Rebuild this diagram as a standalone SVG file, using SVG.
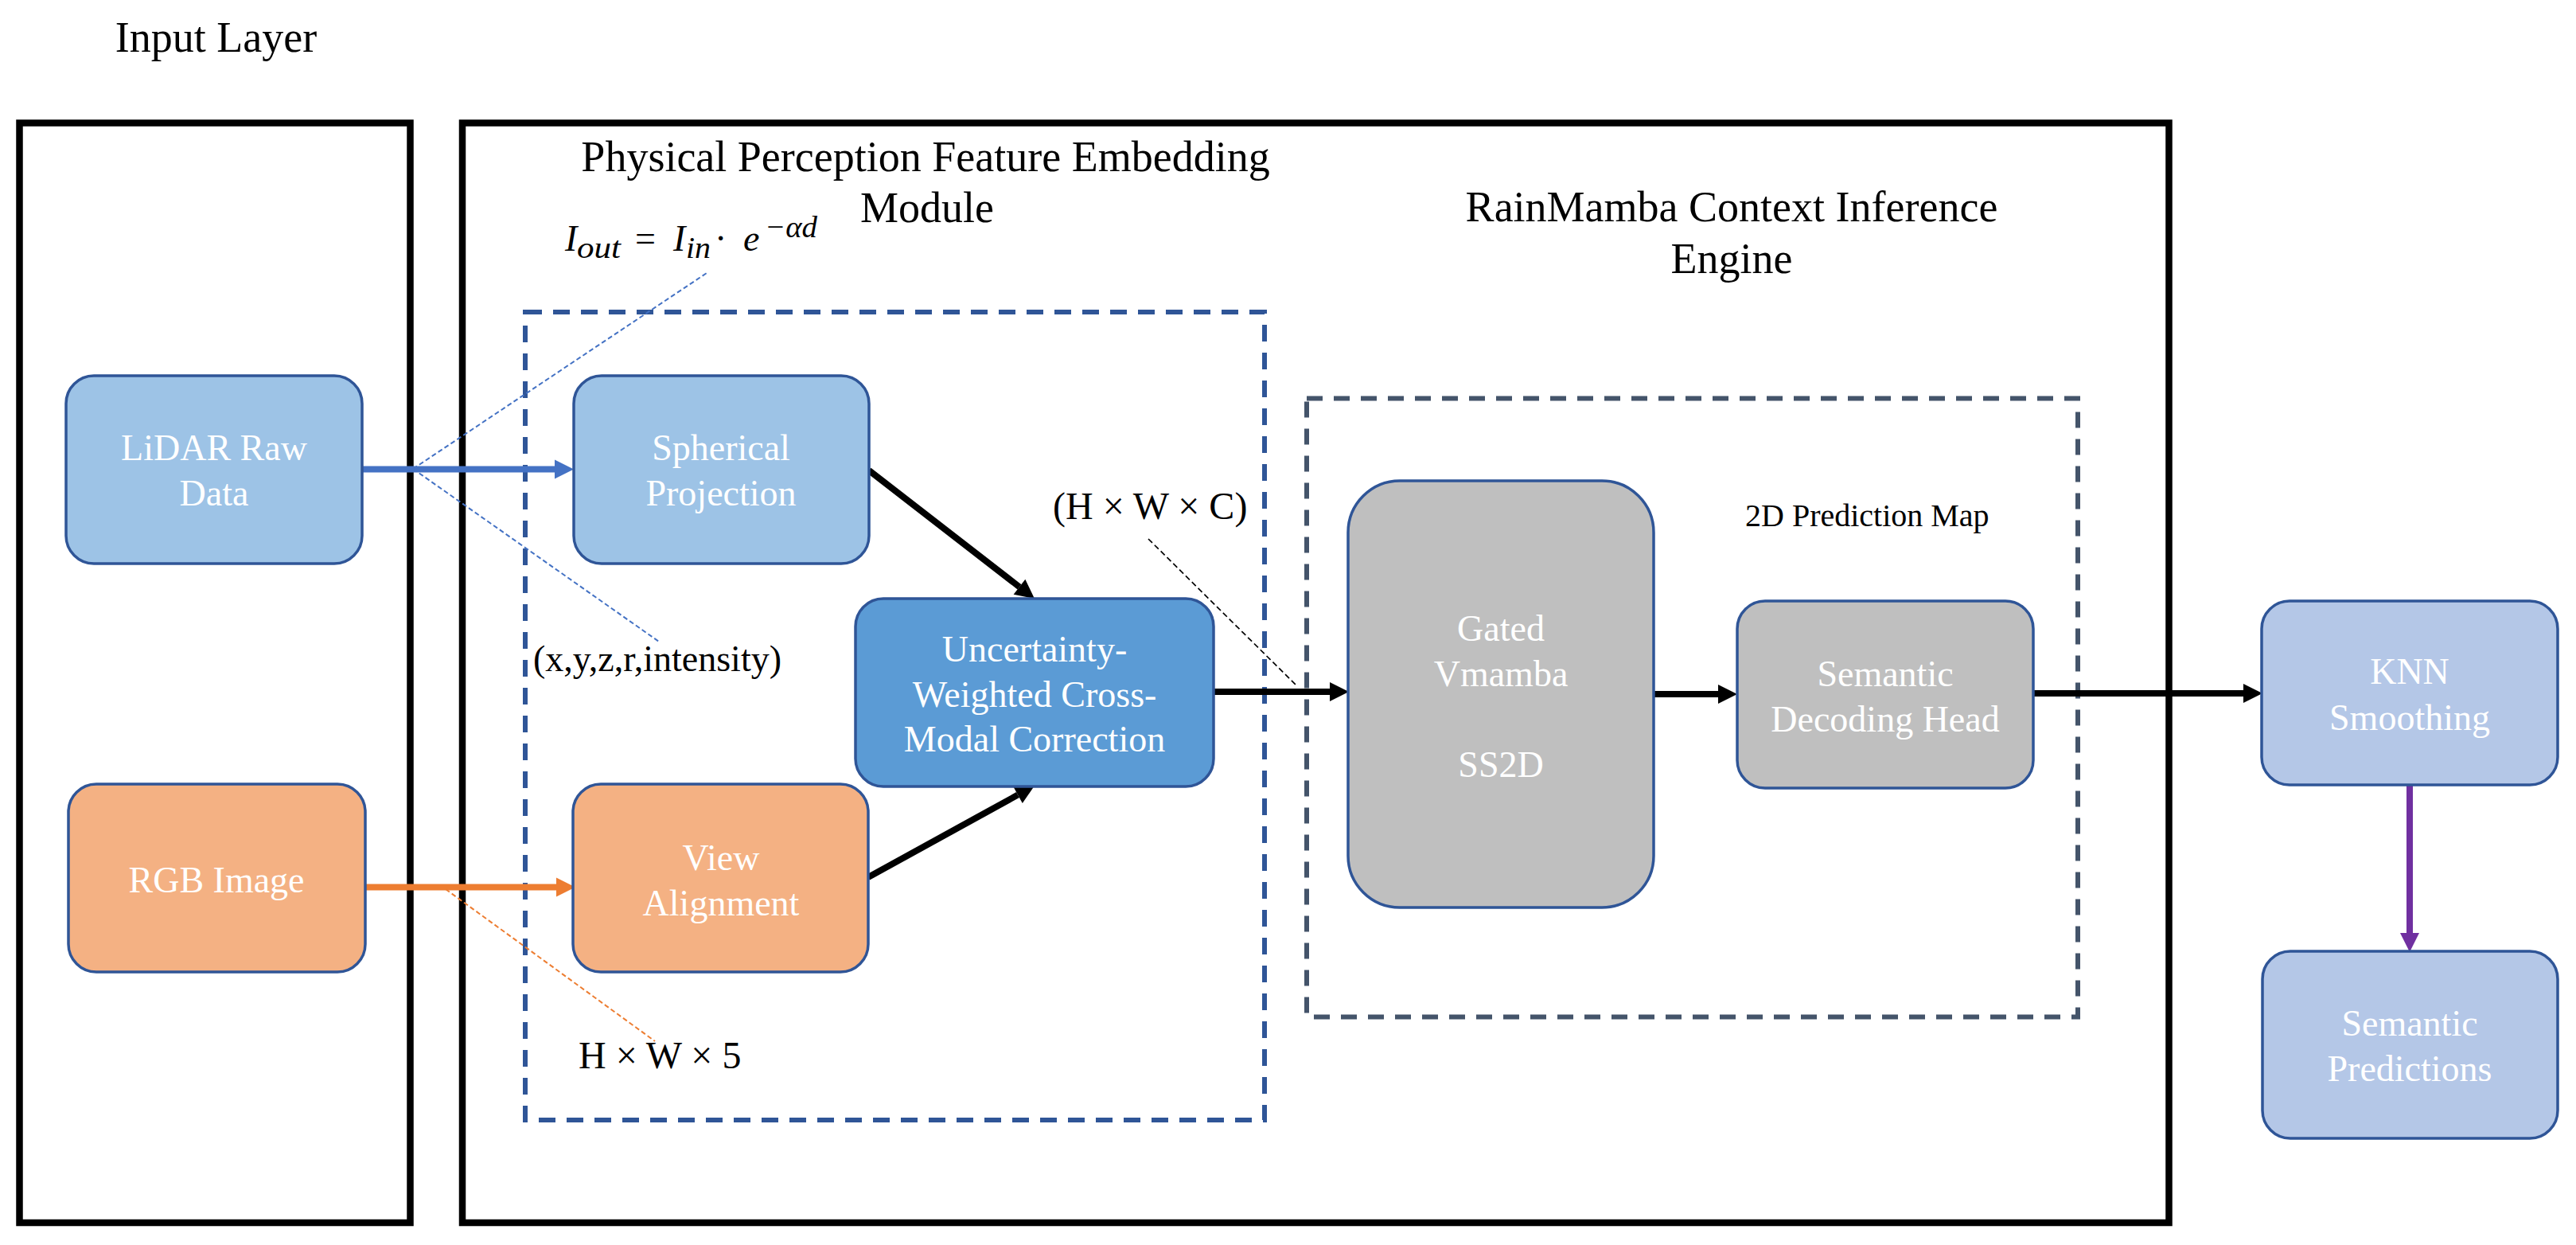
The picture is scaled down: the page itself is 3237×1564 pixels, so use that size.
<svg xmlns="http://www.w3.org/2000/svg" width="3237" height="1564" viewBox="0 0 3237 1564">
<style>
.frame{fill:none;stroke:#000;stroke-width:8.5}
.db1{fill:none;stroke:#2F5597;stroke-width:6;stroke-dasharray:21 14}
.db2{fill:none;stroke:#44546A;stroke-width:6;stroke-dasharray:20 14}
.box{stroke:#2F5597;stroke-width:3.5}
.lbl{font-family:"Liberation Serif","Times New Roman",serif;font-size:46px;fill:#fff;text-anchor:middle}
.t{font-family:"Liberation Serif","Times New Roman",serif;fill:#000}
.title{font-size:54px;text-anchor:middle}
.ar{fill:none;stroke-width:8}
.thin{fill:none;stroke-width:2;stroke-dasharray:6 3.5}
</style>
<defs>
<marker id="hk" markerUnits="userSpaceOnUse" markerWidth="24" markerHeight="24" refX="0" refY="12" orient="auto" overflow="visible"><path d="M0,0 L24,12 L0,24 z" fill="#000"/></marker>
<marker id="hb" markerUnits="userSpaceOnUse" markerWidth="24" markerHeight="24" refX="0" refY="12" orient="auto" overflow="visible"><path d="M0,0 L24,12 L0,24 z" fill="#4472C4"/></marker>
<marker id="ho" markerUnits="userSpaceOnUse" markerWidth="24" markerHeight="24" refX="0" refY="12" orient="auto" overflow="visible"><path d="M0,0 L24,12 L0,24 z" fill="#ED7D31"/></marker>
<marker id="hp" markerUnits="userSpaceOnUse" markerWidth="24" markerHeight="24" refX="0" refY="12" orient="auto" overflow="visible"><path d="M0,0 L24,12 L0,24 z" fill="#7030A0"/></marker>
</defs>
<rect width="3237" height="1564" fill="#fff"/>

<g id="frames">
<rect class="frame" x="24.5" y="154.5" width="491" height="1381.5"/>
<rect class="frame" x="581" y="154.5" width="2144.5" height="1381.5"/>
<rect class="db1" x="660" y="392" width="929" height="1015"/>
<rect class="db2" x="1642" y="500.5" width="969" height="777"/>
</g>

<g id="titles">
<text class="t title" x="271.5" y="65">Input Layer</text>
<text class="t title" x="1163" y="215">Physical Perception Feature Embedding</text>
<text class="t title" x="1165" y="279">Module</text>
<text class="t title" x="2176" y="278">RainMamba Context Inference</text>
<text class="t title" x="2176" y="343">Engine</text>
</g>

<g id="annotations">
<text class="t" font-size="46" font-style="italic"><tspan x="710" y="315">I</tspan><tspan x="725" y="324" font-size="38" textLength="55" lengthAdjust="spacingAndGlyphs">out</tspan><tspan x="798" y="315" font-style="normal">=</tspan><tspan x="846" y="315">I</tspan><tspan x="862" y="324" font-size="38" textLength="31" lengthAdjust="spacingAndGlyphs">in</tspan><tspan x="898" y="315" font-style="normal">·</tspan><tspan x="934" y="315">e</tspan><tspan x="961" y="298" font-size="38" textLength="66" lengthAdjust="spacingAndGlyphs">−αd</tspan></text>
<text class="t" x="670" y="843" font-size="46">(x,y,z,r,intensity)</text>
<text class="t" x="727" y="1342" font-size="48">H × W × 5</text>
<text class="t" x="1323" y="652" font-size="48">(H × W × C)</text>
<text class="t" x="2193" y="661" font-size="40">2D Prediction Map</text>
</g>

<g id="connectors">
<line class="ar" stroke="#4472C4" x1="455" y1="589.5" x2="697" y2="589.5" marker-end="url(#hb)"/>
<line class="ar" stroke="#ED7D31" x1="459" y1="1114.5" x2="699" y2="1114.5" marker-end="url(#ho)"/>
<line class="thin" stroke="#4472C4" x1="519" y1="589" x2="888" y2="343"/>
<line class="thin" stroke="#4472C4" x1="519" y1="589" x2="828" y2="806"/>
<line class="thin" stroke="#ED7D31" x1="560" y1="1117" x2="823" y2="1308"/>
<line class="ar" stroke="#000" x1="1092" y1="591" x2="1281" y2="737.3" marker-end="url(#hk)"/>
<line class="ar" stroke="#000" x1="1091" y1="1102" x2="1279" y2="998.6" marker-end="url(#hk)"/>
<line class="ar" stroke="#000" x1="1525" y1="869" x2="1671" y2="869" marker-end="url(#hk)"/>
<line class="ar" stroke="#000" x1="2078" y1="872" x2="2159" y2="872" marker-end="url(#hk)"/>
<line class="ar" stroke="#000" x1="2555" y1="871" x2="2819" y2="871" marker-end="url(#hk)"/>
<line class="ar" stroke="#7030A0" x1="3028" y1="986" x2="3028" y2="1172" marker-end="url(#hp)"/>
<line fill="none" stroke="#000" stroke-width="1.7" stroke-dasharray="7 4" x1="1443" y1="677" x2="1628" y2="860"/>
</g>

<g id="lidar">
<rect class="box" x="83" y="472" width="372" height="236" rx="35" fill="#9DC3E6"/>
<text class="lbl" x="269" y="578">LiDAR Raw</text>
<text class="lbl" x="269" y="635">Data</text>
</g>
<g id="rgb">
<rect class="box" x="86" y="985" width="373" height="236" rx="35" fill="#F4B183"/>
<text class="lbl" x="272" y="1121">RGB Image</text>
</g>
<g id="spherical">
<rect class="box" x="721" y="472" width="371" height="236" rx="35" fill="#9DC3E6"/>
<text class="lbl" x="906" y="578">Spherical</text>
<text class="lbl" x="906" y="635">Projection</text>
</g>
<g id="view">
<rect class="box" x="720" y="985" width="371" height="236" rx="35" fill="#F4B183"/>
<text class="lbl" x="906" y="1093">View</text>
<text class="lbl" x="906" y="1150">Alignment</text>
</g>
<g id="uncertainty">
<rect class="box" x="1075" y="752" width="450" height="236" rx="35" fill="#5B9BD5"/>
<text class="lbl" x="1300" y="831">Uncertainty-</text>
<text class="lbl" x="1300" y="888">Weighted Cross-</text>
<text class="lbl" x="1300" y="944">Modal Correction</text>
</g>
<g id="gated">
<rect class="box" x="1694" y="604" width="384" height="536" rx="65" fill="#BFBFBF"/>
<text class="lbl" x="1886" y="805">Gated</text>
<text class="lbl" x="1886" y="862">Vmamba</text>
<text class="lbl" x="1886" y="976">SS2D</text>
</g>
<g id="decoding">
<rect class="box" x="2183" y="755" width="372" height="235" rx="35" fill="#BFBFBF"/>
<text class="lbl" x="2369" y="862">Semantic</text>
<text class="lbl" x="2369" y="919">Decoding Head</text>
</g>
<g id="knn">
<rect class="box" x="2842" y="755" width="372" height="231" rx="35" fill="#B4C7E7"/>
<text class="lbl" x="3028" y="859">KNN</text>
<text class="lbl" x="3028" y="917">Smoothing</text>
</g>
<g id="predictions">
<rect class="box" x="2843" y="1195" width="371" height="235" rx="35" fill="#B4C7E7"/>
<text class="lbl" x="3028" y="1301">Semantic</text>
<text class="lbl" x="3028" y="1358">Predictions</text>
</g>
</svg>
